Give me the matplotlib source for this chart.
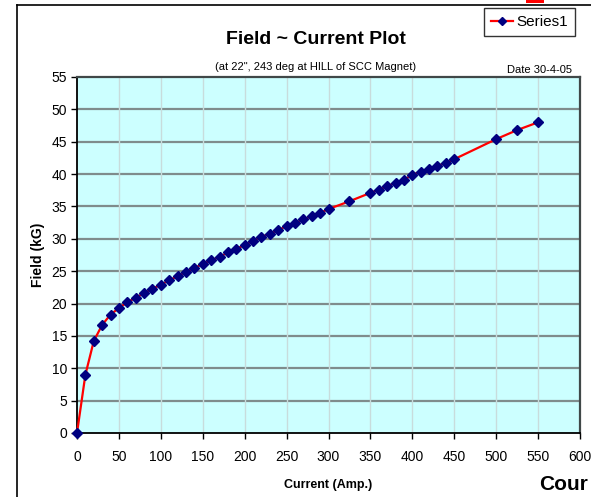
import matplotlib
matplotlib.use("Agg")
import matplotlib.pyplot as plt
from matplotlib.lines import Line2D
from matplotlib.patches import Rectangle

# Magnet excitation measurements: current (A) vs field (kG)
current = [0, 10, 20, 30, 40, 50, 60, 70, 80, 90, 100, 110, 120, 130, 140,
           150, 160, 170, 180, 190, 200, 210, 220, 230, 240, 250, 260, 270,
           280, 290, 300, 325, 350, 360, 370, 380, 390, 400, 410, 420, 430,
           440, 450, 500, 525, 550]
field = [0.0, 9.0, 14.2, 16.7, 18.3, 19.3, 20.2, 20.9, 21.6, 22.3, 22.9,
         23.6, 24.2, 24.9, 25.5, 26.1, 26.7, 27.2, 27.9, 28.5, 29.0, 29.7,
         30.3, 30.8, 31.3, 32.0, 32.4, 33.0, 33.5, 34.0, 34.6, 35.8, 37.1,
         37.6, 38.1, 38.7, 39.1, 39.9, 40.4, 40.8, 41.3, 41.7, 42.3, 45.4,
         46.8, 48.0]

x_ticks = list(range(0, 601, 50))
y_ticks = list(range(0, 56, 5))

FONT = ['Liberation Sans Narrow', 'Liberation Sans', 'DejaVu Sans']
plt.rcParams['font.family'] = FONT

fig = plt.figure(figsize=(5.91, 4.97), dpi=100)
fig.patch.set_facecolor('white')

# outer chart frame (runs off the right and bottom edges)
fig.add_artist(Line2D([17 / 591, 1.2], [1 - 5 / 497] * 2, color='black', lw=1.2,
                      transform=fig.transFigure))
fig.add_artist(Line2D([17 / 591] * 2, [-0.2, 1 - 5 / 497], color='black', lw=1.2,
                      transform=fig.transFigure))
# partial red shape at the top edge
fig.add_artist(Rectangle((526 / 591, 1 - 2.5 / 497), 18 / 591, 2.5 / 497,
                         color='red', lw=0, transform=fig.transFigure))

ax = fig.add_axes([77 / 591, 1 - 433 / 497, (580 - 77) / 591, (433 - 77) / 497])
ax.set_facecolor('#CCFFFF')

ax.plot(current, field, color='red', lw=1.6, marker='D', markersize=5,
        markerfacecolor='#000080', markeredgecolor='#000080', zorder=3,
        label='Series1', clip_on=False)

ax.set_xlim(0, 600)
ax.set_ylim(0, 55)
ax.set_xticks(x_ticks)
ax.set_yticks(y_ticks)
ax.tick_params(direction='out', length=4, width=1, labelsize=10, pad=8,
               axis='x')
ax.tick_params(direction='out', length=4, width=1, labelsize=10, pad=3,
               axis='y')

for v in y_ticks[1:-1]:
    ax.axhline(v, color='#7f8c8c', lw=1.6, zorder=1)
for v in x_ticks[1:-1]:
    ax.axvline(v, color='#c8dcdc', lw=1.0, zorder=1)

ax.spines['left'].set_color('black')
ax.spines['bottom'].set_color('black')
ax.spines['left'].set_linewidth(1.3)
ax.spines['bottom'].set_linewidth(1.3)
for s in ('top', 'right'):
    ax.spines[s].set_color('#404848')
    ax.spines[s].set_linewidth(1.6)

ax.set_ylabel('Field (kG)', fontsize=10, fontweight='bold',
              family=['Liberation Sans', 'DejaVu Sans'], labelpad=5)
ax.set_xlabel('Current (Amp.)', fontsize=9, fontweight='bold', labelpad=11)

fig.text(316 / 591, 1 - 40 / 497, 'Field ~ Current Plot', fontsize=14,
         fontweight='bold', ha='center', va='center',
         family=['Liberation Sans', 'DejaVu Sans'])
fig.text(316 / 591, 1 - 67 / 497, '(at 22", 243 deg at HILL of SCC Magnet)',
         fontsize=8, ha='center', va='center')
fig.text(572 / 591, 1 - 70 / 497, 'Date 30-4-05', fontsize=8, ha='right',
         va='center')
fig.text(539 / 591, 1 - 485 / 497, 'Cour', fontsize=15, fontweight='bold',
         ha='left', va='center', family=['Liberation Sans', 'DejaVu Sans'])

leg = fig.legend(handles=[Line2D([], [], color='red', lw=1.6, marker='D',
                                 markersize=4, markerfacecolor='#000080',
                                 markeredgecolor='#000080')],
                 labels=['Series1'], loc='upper right',
                 bbox_to_anchor=(575 / 591, 1 - 8 / 497), fontsize=11,
                 frameon=True, fancybox=False, edgecolor='black',
                 handlelength=1.4, handletextpad=0.25, borderpad=0.45,
                 borderaxespad=0)
leg.get_frame().set_linewidth(1.0)

fig.savefig('out.png', dpi=100)
